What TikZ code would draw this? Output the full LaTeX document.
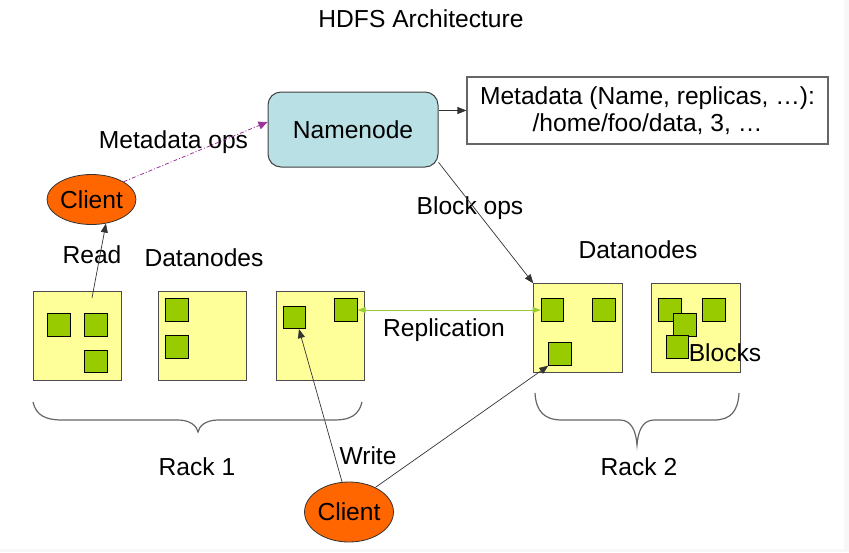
\documentclass[tikz,border=0pt]{standalone}
\usepackage{fontspec}
\setmainfont{Liberation Sans}
\usetikzlibrary{shapes.geometric,arrows.meta,calc}
\definecolor{nnblue}{RGB}{185,224,228}
\definecolor{dnyellow}{RGB}{255,255,153}
\definecolor{blkgreen}{RGB}{153,204,0}
\definecolor{clorange}{RGB}{255,102,0}
\definecolor{metapurple}{RGB}{153,51,153}
\definecolor{replgreen}{RGB}{153,204,51}
\begin{document}
\begin{tikzpicture}[x=1pt,y=-1pt,
  font=\fontsize{24.6}{27}\selectfont,
  dnbox/.style={draw=black!70, fill=dnyellow, line width=1.1pt, minimum width=88.5pt, minimum height=88.5pt, inner sep=0pt, anchor=north west},
  blk/.style={draw=black, fill=blkgreen, line width=1pt, minimum size=22.4pt, inner sep=0pt, anchor=north west},
  lbl/.style={anchor=base, inner sep=0pt},
  client/.style={ellipse, draw=black!80, fill=clorange, line width=0.8pt, inner sep=0pt},
  conn/.style={draw=black!80, line width=0.7pt, -{Triangle[length=9pt,width=7pt]}},
  metaconn/.style={draw=metapurple, line width=0.8pt, dash pattern=on 4pt off 2pt on 1pt off 2pt, -{Triangle[length=9pt,width=8pt]}},
  replconn/.style={draw=replgreen, line width=1pt, {Triangle[length=8pt,width=6pt]}-{Triangle[length=8pt,width=6pt]}},
  bracestyle/.style={draw=black!60, line width=1.2pt}
]
\useasboundingbox (0,0) rectangle (849,552);
\fill[black!3] (844,0) rectangle (849,552);
\fill[black!3] (0,549) rectangle (849,552);

% title
\node[lbl] (title) at (421,27) {HDFS Architecture};

% namenode and metadata
\node[draw=black!75, fill=nnblue, line width=1pt, rounded corners=13pt, minimum width=170pt, minimum height=75pt, inner sep=0pt] (nn) at (353,129.5) {Namenode};
\node[draw=black!60, fill=white, line width=1.1pt, minimum width=361pt, minimum height=67pt, inner sep=0pt, align=center] (md) at (647.5,110.5) {Metadata (Name, replicas, …):\\/home/foo/data, 3, …};

% clients
\node[client, minimum width=88pt, minimum height=50pt] (cA) at (91.5,199.5) {Client};
\node[client, minimum width=88pt, minimum height=60pt] (cB) at (349,512) {Client};

% datanode boxes
\node[dnbox] (box1) at (32.7,291) {};
\node[dnbox] (box2) at (157.7,291) {};
\node[dnbox] (box3) at (275.7,291) {};
\node[dnbox] (box4) at (533.3,283.3) {};
\node[dnbox] (box5) at (651,283.3) {};

% blocks
\node[blk] (b1a) at (47.3,313.3) {};
\node[blk] (b1b) at (84.3,313.3) {};
\node[blk] (b1c) at (84.3,350) {};
\node[blk] (b2a) at (165.3,298.3) {};
\node[blk] (b2b) at (165.3,335.3) {};
\node[blk] (b3a) at (283,305.7) {};
\node[blk] (b3b) at (334.3,298.3) {};
\node[blk] (b4a) at (540.7,298.3) {};
\node[blk] (b4b) at (592.3,298.3) {};
\node[blk] (b4c) at (548.3,342.3) {};
\node[blk] (b5a) at (658.3,298.3) {};
\node[blk] (b5b) at (673.3,313.3) {};
\node[blk] (b5c) at (665.7,335.3) {};
\node[blk] (b5d) at (702.3,298.3) {};

% labels
\node[lbl] (lmeta) at (173.5,148.5) {Metadata ops};
\node[lbl] (lblock) at (470,214.5) {Block ops};
\node[lbl] (lread) at (92,263) {Read};
\node[lbl] (ldn1) at (204,266) {Datanodes};
\node[lbl] (ldn2) at (638,258) {Datanodes};
\node[lbl] (lrepl) at (444,336) {Replication};
\node[lbl] (lblocks) at (725,361) {Blocks};
\node[lbl] (lwrite) at (368,464) {Write};
\node[lbl] (lrack1) at (197,475) {Rack 1};
\node[lbl] (lrack2) at (639,475) {Rack 2};

% connectors
\coordinate (readstart) at (92,298);
\draw[metaconn] (cA.29) -- ([yshift=7.5pt]nn.west);
\draw[conn] (readstart) -- (cA.-59);
\draw[conn] (nn.east |- md.west) -- (md.west);
\draw[conn] (nn.-21) -- (box4.north west);
\draw[replconn] (b3b.east) -- (b4a.west);
\draw[conn] (cB.103) -- (b3a.-70);
\draw[conn] (cB.43) -- (b4c.south west);

% braces
\draw[bracestyle] (33,402) .. controls (36,415) and (45,420) .. (62,420) -- (178,420)
  .. controls (190,420) and (197,426) .. (198,432)
  .. controls (199,426) and (206,420) .. (218,420) -- (335,420)
  .. controls (350,420) and (359,415) .. (362,402);
\draw[bracestyle] (535,393) .. controls (536,412) and (545,420) .. (562,420) -- (620,420)
  .. controls (632,420) and (636,432) .. (637,445)
  .. controls (638,432) and (642,420) .. (654,420) -- (714,420)
  .. controls (730,420) and (738,412) .. (739,393);
\end{tikzpicture}
\end{document}
